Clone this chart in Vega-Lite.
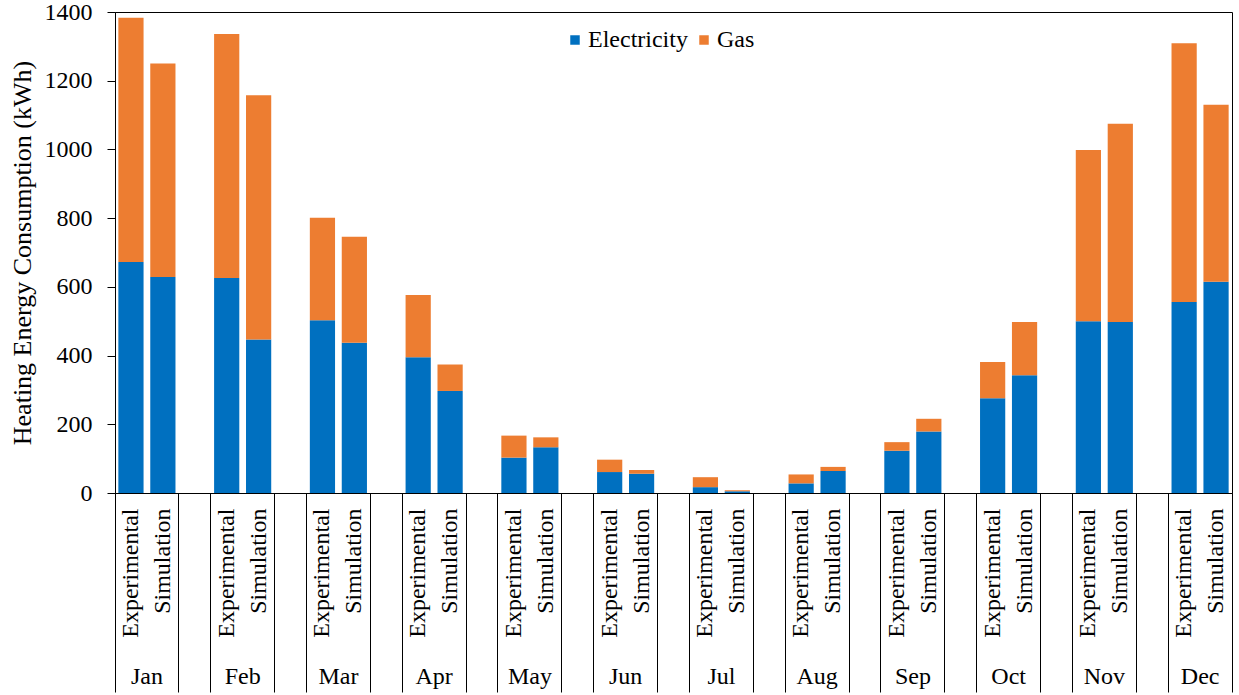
{
  "$schema": "https://vega.github.io/schema/vega-lite/v6.json",
  "width": 1117,
  "height": 481,
  "autosize": {"type": "none"},
  "padding": {"left": 115, "top": 12, "right": 7, "bottom": 202},
  "background": "white",
  "config": {
    "font": "Liberation Serif",
    "view": {"stroke": "black", "strokeWidth": 1},
    "axis": {"labelFont": "Liberation Serif", "titleFont": "Liberation Serif", "labelColor": "black", "titleColor": "black", "domainColor": "black", "tickColor": "black", "grid": false},
    "legend": {"labelFont": "Liberation Serif"}
  },
  "data": {
    "values": [
      {"month": "Jan", "type": "Experimental", "cat": "Jan|Experimental", "source": "Electricity", "kWh": 672},
      {"month": "Jan", "type": "Experimental", "cat": "Jan|Experimental", "source": "Gas", "kWh": 711},
      {"month": "Jan", "type": "Simulation", "cat": "Jan|Simulation", "source": "Electricity", "kWh": 629},
      {"month": "Jan", "type": "Simulation", "cat": "Jan|Simulation", "source": "Gas", "kWh": 621},
      {"month": "Feb", "type": "Experimental", "cat": "Feb|Experimental", "source": "Electricity", "kWh": 626},
      {"month": "Feb", "type": "Experimental", "cat": "Feb|Experimental", "source": "Gas", "kWh": 710},
      {"month": "Feb", "type": "Simulation", "cat": "Feb|Simulation", "source": "Electricity", "kWh": 447},
      {"month": "Feb", "type": "Simulation", "cat": "Feb|Simulation", "source": "Gas", "kWh": 711},
      {"month": "Mar", "type": "Experimental", "cat": "Mar|Experimental", "source": "Electricity", "kWh": 503},
      {"month": "Mar", "type": "Experimental", "cat": "Mar|Experimental", "source": "Gas", "kWh": 298},
      {"month": "Mar", "type": "Simulation", "cat": "Mar|Simulation", "source": "Electricity", "kWh": 437},
      {"month": "Mar", "type": "Simulation", "cat": "Mar|Simulation", "source": "Gas", "kWh": 309},
      {"month": "Apr", "type": "Experimental", "cat": "Apr|Experimental", "source": "Electricity", "kWh": 395},
      {"month": "Apr", "type": "Experimental", "cat": "Apr|Experimental", "source": "Gas", "kWh": 181},
      {"month": "Apr", "type": "Simulation", "cat": "Apr|Simulation", "source": "Electricity", "kWh": 297},
      {"month": "Apr", "type": "Simulation", "cat": "Apr|Simulation", "source": "Gas", "kWh": 77},
      {"month": "May", "type": "Experimental", "cat": "May|Experimental", "source": "Electricity", "kWh": 103},
      {"month": "May", "type": "Experimental", "cat": "May|Experimental", "source": "Gas", "kWh": 64},
      {"month": "May", "type": "Simulation", "cat": "May|Simulation", "source": "Electricity", "kWh": 133},
      {"month": "May", "type": "Simulation", "cat": "May|Simulation", "source": "Gas", "kWh": 29},
      {"month": "Jun", "type": "Experimental", "cat": "Jun|Experimental", "source": "Electricity", "kWh": 61},
      {"month": "Jun", "type": "Experimental", "cat": "Jun|Experimental", "source": "Gas", "kWh": 36},
      {"month": "Jun", "type": "Simulation", "cat": "Jun|Simulation", "source": "Electricity", "kWh": 56},
      {"month": "Jun", "type": "Simulation", "cat": "Jun|Simulation", "source": "Gas", "kWh": 11},
      {"month": "Jul", "type": "Experimental", "cat": "Jul|Experimental", "source": "Electricity", "kWh": 17},
      {"month": "Jul", "type": "Experimental", "cat": "Jul|Experimental", "source": "Gas", "kWh": 29},
      {"month": "Jul", "type": "Simulation", "cat": "Jul|Simulation", "source": "Electricity", "kWh": 5},
      {"month": "Jul", "type": "Simulation", "cat": "Jul|Simulation", "source": "Gas", "kWh": 3},
      {"month": "Aug", "type": "Experimental", "cat": "Aug|Experimental", "source": "Electricity", "kWh": 28},
      {"month": "Aug", "type": "Experimental", "cat": "Aug|Experimental", "source": "Gas", "kWh": 26},
      {"month": "Aug", "type": "Simulation", "cat": "Aug|Simulation", "source": "Electricity", "kWh": 64},
      {"month": "Aug", "type": "Simulation", "cat": "Aug|Simulation", "source": "Gas", "kWh": 12},
      {"month": "Sep", "type": "Experimental", "cat": "Sep|Experimental", "source": "Electricity", "kWh": 123},
      {"month": "Sep", "type": "Experimental", "cat": "Sep|Experimental", "source": "Gas", "kWh": 25},
      {"month": "Sep", "type": "Simulation", "cat": "Sep|Simulation", "source": "Electricity", "kWh": 179},
      {"month": "Sep", "type": "Simulation", "cat": "Sep|Simulation", "source": "Gas", "kWh": 37},
      {"month": "Oct", "type": "Experimental", "cat": "Oct|Experimental", "source": "Electricity", "kWh": 276},
      {"month": "Oct", "type": "Experimental", "cat": "Oct|Experimental", "source": "Gas", "kWh": 105},
      {"month": "Oct", "type": "Simulation", "cat": "Oct|Simulation", "source": "Electricity", "kWh": 343},
      {"month": "Oct", "type": "Simulation", "cat": "Oct|Simulation", "source": "Gas", "kWh": 155},
      {"month": "Nov", "type": "Experimental", "cat": "Nov|Experimental", "source": "Electricity", "kWh": 500},
      {"month": "Nov", "type": "Experimental", "cat": "Nov|Experimental", "source": "Gas", "kWh": 498},
      {"month": "Nov", "type": "Simulation", "cat": "Nov|Simulation", "source": "Electricity", "kWh": 498},
      {"month": "Nov", "type": "Simulation", "cat": "Nov|Simulation", "source": "Gas", "kWh": 577},
      {"month": "Dec", "type": "Experimental", "cat": "Dec|Experimental", "source": "Electricity", "kWh": 556},
      {"month": "Dec", "type": "Experimental", "cat": "Dec|Experimental", "source": "Gas", "kWh": 753},
      {"month": "Dec", "type": "Simulation", "cat": "Dec|Simulation", "source": "Electricity", "kWh": 615},
      {"month": "Dec", "type": "Simulation", "cat": "Dec|Simulation", "source": "Gas", "kWh": 515}
    ]
  },
  "layer": [
    {
      "mark": {"type": "bar", "width": {"band": 0.79}},
      "encoding": {
        "x": {
          "field": "cat", "type": "nominal",
          "scale": {"domain": ["Jan|Experimental","Jan|Simulation","g1","Feb|Experimental","Feb|Simulation","g2","Mar|Experimental","Mar|Simulation","g3","Apr|Experimental","Apr|Simulation","g4","May|Experimental","May|Simulation","g5","Jun|Experimental","Jun|Simulation","g6","Jul|Experimental","Jul|Simulation","g7","Aug|Experimental","Aug|Simulation","g8","Sep|Experimental","Sep|Simulation","g9","Oct|Experimental","Oct|Simulation","g10","Nov|Experimental","Nov|Simulation","g11","Dec|Experimental","Dec|Simulation"], "paddingInner": 0, "paddingOuter": 0},
          "axis": {
            "orient": "bottom", "title": null, "ticks": false, "domain": true, "domainWidth": 1,
            "values": ["Jan|Experimental","Jan|Simulation","Feb|Experimental","Feb|Simulation","Mar|Experimental","Mar|Simulation","Apr|Experimental","Apr|Simulation","May|Experimental","May|Simulation","Jun|Experimental","Jun|Simulation","Jul|Experimental","Jul|Simulation","Aug|Experimental","Aug|Simulation","Sep|Experimental","Sep|Simulation","Oct|Experimental","Oct|Simulation","Nov|Experimental","Nov|Simulation","Dec|Experimental","Dec|Simulation"],
            "labelExpr": "split(datum.value, '|')[1]",
            "labelAngle": 270, "labelAlign": "right", "labelBaseline": "middle",
            "labelPadding": 15, "labelFontSize": 24, "labelOverlap": false, "labelBound": false, "labelFlush": false
          }
        },
        "y": {
          "field": "kWh", "type": "quantitative", "stack": "zero",
          "scale": {"domain": [0, 1400], "nice": false},
          "axis": {
            "values": [0, 200, 400, 600, 800, 1000, 1200, 1400],
            "format": "d",
            "title": "Heating Energy Consumption (kWh)",
            "titleFontSize": 26, "titleFontWeight": "normal", "titlePadding": 9,
            "labelFontSize": 24, "labelPadding": 15, "tickSize": 8, "domainWidth": 1, "tickWidth": 1
          }
        },
        "color": {
          "field": "source", "type": "nominal",
          "scale": {"domain": ["Electricity", "Gas"], "range": ["#0070C0", "#ED7D31"]},
          "legend": {
            "orient": "none", "legendX": 448, "legendY": 16, "direction": "horizontal", "title": null,
            "symbolType": "square", "symbolSize": 90, "symbolStrokeWidth": 0,
            "labelFontSize": 24, "labelFont": "Liberation Serif", "labelColor": "black", "labelOffset": 1, "columnPadding": 4
          }
        },
        "order": {"field": "source", "sort": "ascending"}
      }
    },
    {
      "mark": {"type": "point", "opacity": 0},
      "encoding": {
        "x": {
          "field": "cat", "type": "nominal",
          "scale": {"domain": ["Jan|Experimental","Jan|Simulation","g1","Feb|Experimental","Feb|Simulation","g2","Mar|Experimental","Mar|Simulation","g3","Apr|Experimental","Apr|Simulation","g4","May|Experimental","May|Simulation","g5","Jun|Experimental","Jun|Simulation","g6","Jul|Experimental","Jul|Simulation","g7","Aug|Experimental","Aug|Simulation","g8","Sep|Experimental","Sep|Simulation","g9","Oct|Experimental","Oct|Simulation","g10","Nov|Experimental","Nov|Simulation","g11","Dec|Experimental","Dec|Simulation"], "paddingInner": 0, "paddingOuter": 0},
          "axis": {
            "orient": "bottom", "title": null, "labels": false, "domain": false,
            "ticks": true, "tickSize": 199, "tickWidth": 1, "bandPosition": 0,
            "values": ["Jan|Experimental","g1","Feb|Experimental","g2","Mar|Experimental","g3","Apr|Experimental","g4","May|Experimental","g5","Jun|Experimental","g6","Jul|Experimental","g7","Aug|Experimental","g8","Sep|Experimental","g9","Oct|Experimental","g10","Nov|Experimental","g11","Dec|Experimental"]
          }
        }
      }
    },
    {
      "mark": {"type": "point", "opacity": 0},
      "encoding": {
        "x": {
          "field": "cat", "type": "nominal",
          "scale": {"domain": ["Jan|Experimental","Jan|Simulation","g1","Feb|Experimental","Feb|Simulation","g2","Mar|Experimental","Mar|Simulation","g3","Apr|Experimental","Apr|Simulation","g4","May|Experimental","May|Simulation","g5","Jun|Experimental","Jun|Simulation","g6","Jul|Experimental","Jul|Simulation","g7","Aug|Experimental","Aug|Simulation","g8","Sep|Experimental","Sep|Simulation","g9","Oct|Experimental","Oct|Simulation","g10","Nov|Experimental","Nov|Simulation","g11","Dec|Experimental","Dec|Simulation"], "paddingInner": 0, "paddingOuter": 0},
          "axis": {
            "orient": "bottom", "title": null, "labels": false, "domain": false,
            "ticks": true, "tickSize": 199, "tickWidth": 1, "bandPosition": 1,
            "values": ["Dec|Simulation"]
          }
        }
      }
    },
    {
      "mark": {"type": "point", "opacity": 0},
      "encoding": {
        "x": {
          "field": "cat", "type": "nominal",
          "scale": {"domain": ["Jan|Experimental","Jan|Simulation","g1","Feb|Experimental","Feb|Simulation","g2","Mar|Experimental","Mar|Simulation","g3","Apr|Experimental","Apr|Simulation","g4","May|Experimental","May|Simulation","g5","Jun|Experimental","Jun|Simulation","g6","Jul|Experimental","Jul|Simulation","g7","Aug|Experimental","Aug|Simulation","g8","Sep|Experimental","Sep|Simulation","g9","Oct|Experimental","Oct|Simulation","g10","Nov|Experimental","Nov|Simulation","g11","Dec|Experimental","Dec|Simulation"], "paddingInner": 0, "paddingOuter": 0},
          "axis": {
            "orient": "bottom", "title": null, "ticks": false, "domain": false,
            "values": ["Jan|Experimental","Feb|Experimental","Mar|Experimental","Apr|Experimental","May|Experimental","Jun|Experimental","Jul|Experimental","Aug|Experimental","Sep|Experimental","Oct|Experimental","Nov|Experimental","Dec|Experimental"],
            "labelExpr": "split(datum.value, '|')[0]",
            "labelAngle": 0, "labelAlign": "center", "labelBaseline": "top", "labelOffset": 16,
            "labelPadding": 171, "labelFontSize": 24, "labelOverlap": false, "labelBound": false, "labelFlush": false
          }
        }
      }
    }
  ],
  "resolve": {"axis": {"x": "independent"}}
}
